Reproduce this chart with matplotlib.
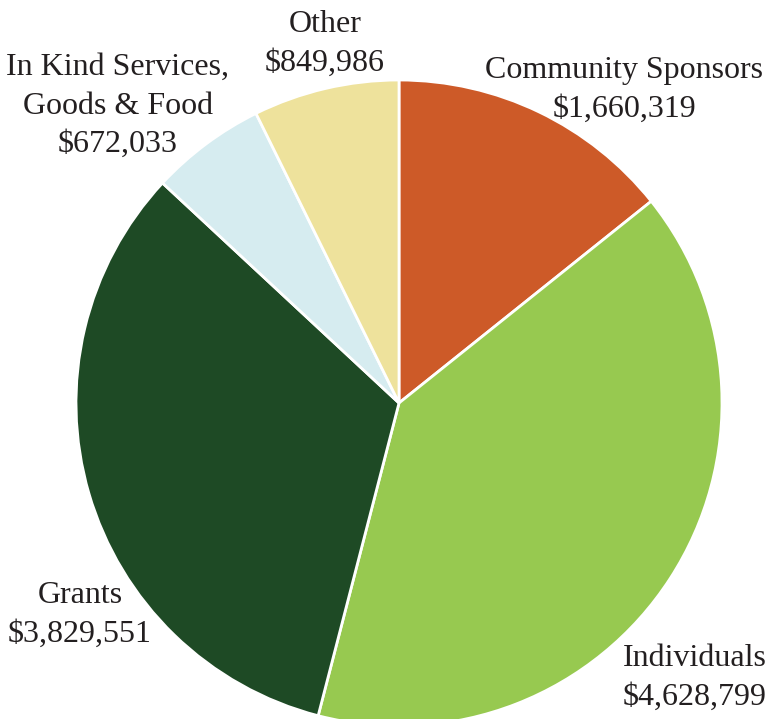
import matplotlib
matplotlib.use("Agg")
import matplotlib.pyplot as plt

categories = ["Community Sponsors", "Individuals", "Grants", "In Kind Services,\nGoods & Food", "Other"]
values = [1660319, 4628799, 3829551, 672033, 849986]
colors = ["#CD5A28", "#97C950", "#1E4A25", "#D6ECF0", "#EEE29C"]

plt.rcParams['font.family'] = ['Liberation Serif', 'DejaVu Serif']

fig = plt.figure(figsize=(7.68, 7.19), dpi=100)
ax = fig.add_axes([0, 0, 1, 1])

cx, cy, r = 399, 719 - 403, 323
ax.pie(values, colors=colors, startangle=90, counterclock=False,
       center=(cx, cy), radius=r, frame=True,
       wedgeprops=dict(edgecolor="white", linewidth=2))
ax.set_xlim(0, 768)
ax.set_ylim(0, 719)
ax.set_aspect('auto')
ax.axis('off')

label_pos = [(624, 90), (695, 678), (80, 615), (118, 106), (325, 44)]
for name, val, (x, y) in zip(categories, values, label_pos):
    ax.text(x, 719 - y, f"{name}\n${val:,}", ha="center", va="center",
            fontsize=23, color="#231F20", linespacing=1.42)

fig.savefig("out.png", dpi=100)
